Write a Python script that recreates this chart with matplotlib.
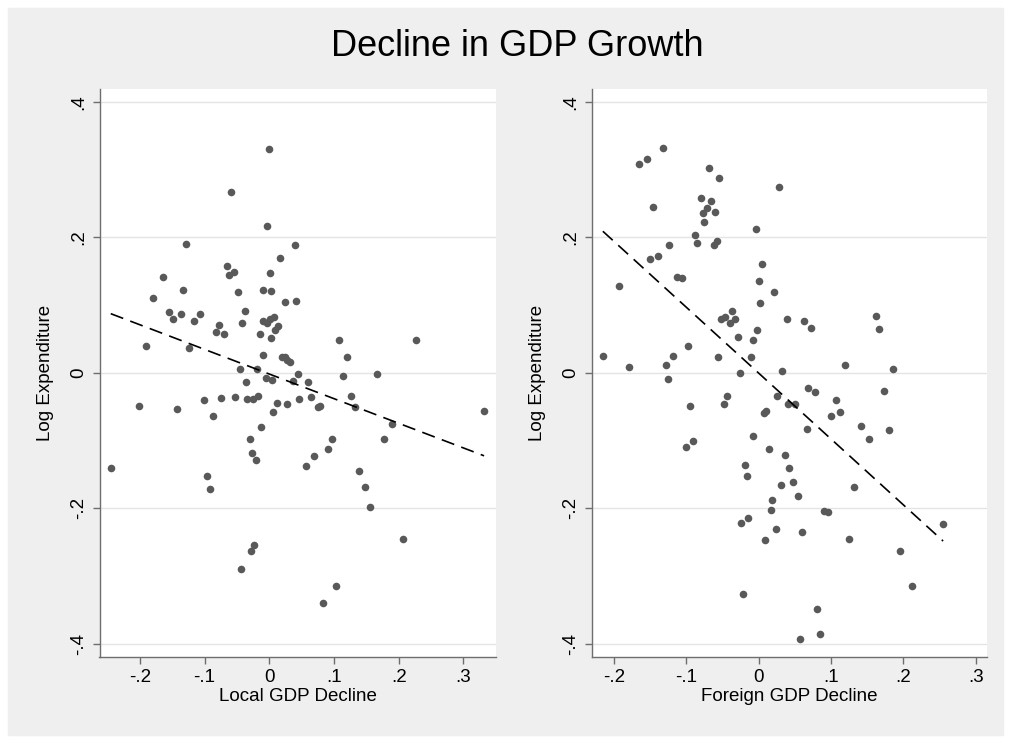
import matplotlib
matplotlib.use("Agg")
import matplotlib.pyplot as plt
import numpy as np
from matplotlib.patches import Rectangle

plt.rcParams['font.family'] = ['Liberation Sans', 'DejaVu Sans']

title = "Decline in GDP Growth"
y_label = "Log Expenditure"
x_labels = ["Local GDP Decline", "Foreign GDP Decline"]
x_ticks = [-0.2, -0.1, 0, 0.1, 0.2, 0.3]
x_tick_labels = ["-.2", "-.1", "0", ".1", ".2", ".3"]
y_ticks = [-0.4, -0.2, 0, 0.2, 0.4]
y_tick_labels = ["-.4", "-.2", "0", ".2", ".4"]

# local GDP decline vs log expenditure
local_x = [0.000, -0.059, -0.003, -0.128, 0.039, 0.017, -0.066, -0.063, -0.055, 0.001,
           -0.165, -0.133, -0.179, -0.049, -0.009, 0.003, 0.024, 0.041, -0.155, -0.149,
           -0.137, -0.107, -0.117, -0.038, -0.042, -0.077, -0.082, -0.070, -0.009, 0.007,
           -0.004, 0.001, 0.013, 0.009, -0.015, 0.002, -0.191, -0.124, -0.010, 0.020,
           0.025, 0.032, 0.027, -0.046, -0.019, 0.044, 0.108, 0.227, 0.120, 0.114,
           0.166, -0.036, -0.005, 0.004, 0.036, -0.202, -0.142, -0.101, -0.074, -0.053,
           -0.034, -0.025, -0.017, -0.087, 0.012, 0.005, 0.027, 0.046, -0.013, -0.030,
           -0.027, -0.021, -0.245, -0.096, -0.091, -0.023, -0.028, -0.044, 0.060, 0.064,
           0.075, 0.079, 0.126, 0.132, 0.190, 0.332, 0.178, 0.097, 0.090, 0.069,
           0.056, 0.139, 0.148, 0.156, 0.207, 0.103, 0.083]
local_y = [0.330, 0.267, 0.217, 0.190, 0.189, 0.170, 0.157, 0.145, 0.149, 0.147,
           0.141, 0.123, 0.110, 0.119, 0.123, 0.121, 0.105, 0.106, 0.090, 0.080,
           0.087, 0.087, 0.077, 0.091, 0.074, 0.070, 0.061, 0.057, 0.076, 0.082,
           0.073, 0.080, 0.069, 0.063, 0.058, 0.052, 0.040, 0.036, 0.026, 0.023,
           0.023, 0.016, 0.019, 0.005, 0.005, -0.001, 0.048, 0.049, 0.023, -0.005,
           -0.002, -0.014, -0.007, -0.010, -0.012, -0.049, -0.054, -0.040, -0.037, -0.035,
           -0.038, -0.038, -0.034, -0.063, -0.045, -0.058, -0.046, -0.038, -0.080, -0.097,
           -0.119, -0.129, -0.141, -0.153, -0.171, -0.254, -0.263, -0.290, -0.013, -0.035,
           -0.050, -0.049, -0.034, -0.051, -0.075, -0.057, -0.097, -0.098, -0.113, -0.123,
           -0.138, -0.145, -0.169, -0.198, -0.245, -0.314, -0.339]

# foreign GDP decline vs log expenditure
foreign_x = [-0.132, -0.165, -0.154, -0.068, -0.054, 0.029, -0.146, -0.080, -0.065, -0.071,
             -0.077, -0.060, -0.075, -0.088, -0.085, -0.062, -0.058, -0.004, -0.123, -0.150,
             -0.139, 0.005, -0.112, -0.106, -0.193, 0.000, 0.021, 0.002, 0.039, -0.037,
             -0.052, -0.046, -0.039, -0.032, -0.029, -0.002, -0.008, -0.097, -0.118, -0.056,
             -0.011, -0.215, -0.179, -0.128, -0.026, 0.033, -0.125, -0.095, -0.048, -0.044,
             0.026, 0.041, 0.008, 0.011, -0.100, -0.091, -0.007, 0.015, 0.037, -0.019,
             -0.016, 0.042, 0.031, 0.047, 0.019, 0.017, -0.014, -0.024, 0.024, 0.009,
             -0.021, 0.063, 0.073, 0.162, 0.167, 0.119, 0.186, 0.069, 0.078, 0.174,
             0.050, 0.107, 0.100, 0.112, 0.067, 0.142, 0.180, 0.153, 0.054, 0.132,
             0.090, 0.096, 0.060, 0.125, 0.255, 0.196, 0.212, 0.081, 0.085, 0.057]
foreign_y = [0.332, 0.308, 0.315, 0.303, 0.287, 0.274, 0.245, 0.258, 0.253, 0.243,
             0.236, 0.238, 0.223, 0.204, 0.191, 0.188, 0.194, 0.212, 0.189, 0.168,
             0.173, 0.161, 0.141, 0.140, 0.128, 0.136, 0.119, 0.103, 0.080, 0.091,
             0.079, 0.082, 0.074, 0.080, 0.053, 0.063, 0.049, 0.040, 0.025, 0.024,
             0.024, 0.025, 0.008, 0.012, 0.000, 0.002, -0.009, -0.049, -0.046, -0.034,
             -0.034, -0.046, -0.059, -0.057, -0.109, -0.101, -0.093, -0.113, -0.122, -0.136,
             -0.153, -0.141, -0.166, -0.161, -0.188, -0.203, -0.214, -0.221, -0.231, -0.247,
             -0.326, 0.076, 0.066, 0.084, 0.065, 0.011, 0.005, -0.022, -0.029, -0.027,
             -0.046, -0.040, -0.064, -0.058, -0.083, -0.078, -0.084, -0.097, -0.182, -0.168,
             -0.204, -0.205, -0.235, -0.245, -0.223, -0.263, -0.314, -0.349, -0.386, -0.393]

W, H = 1011, 743
BG = '#efefef'
DOT = '#595959'
AXIS = '#6e6e6e'


def px_rect(x0, y0, x1, y1):
    # pixel box (top-left origin) -> figure fraction [left, bottom, width, height]
    return [x0 / W, 1 - y1 / H, (x1 - x0) / W, (y1 - y0) / H]


def draw_panel(ax, xs, ys, xlabel, xlim):
    ax.set_facecolor('white')
    ax.scatter(xs, ys, s=30, color=DOT, linewidths=0, zorder=3)

    # linear fit over the range of the data
    slope, icpt = np.polyfit(xs, ys, 1)
    fx = np.array([min(xs), max(xs)])
    ax.plot(fx, icpt + slope * fx, color='black', lw=1.2,
            linestyle=(0, (8, 4.5)), zorder=4)

    ax.set_xlim(*xlim)
    ax.set_ylim(-0.419, 0.419)
    ax.set_xticks(x_ticks)
    ax.set_xticklabels(x_tick_labels)
    ax.set_yticks(y_ticks)
    ax.set_yticklabels(y_tick_labels, rotation=90, va='center')
    ax.grid(axis='y', color='#e4e4e4', lw=1.0, zorder=0)
    ax.set_axisbelow(True)

    for side in ['top', 'right']:
        ax.spines[side].set_visible(False)
    for side in ['left', 'bottom']:
        ax.spines[side].set_color(AXIS)
        ax.spines[side].set_linewidth(1.0)
    ax.tick_params(axis='both', length=5, width=1, color=AXIS,
                   labelsize=13.5, pad=4)

    ax.set_xlabel(xlabel, fontsize=13.5)
    ax.xaxis.set_label_coords(0.5, -0.055)
    ax.set_ylabel(y_label, fontsize=13.5)
    ax.yaxis.set_label_coords(-0.115, 0.5)


if __name__ == "__main__":
    fig = plt.figure(figsize=(W / 100, H / 100), dpi=100)
    fig.patch.set_facecolor('white')
    fig.patches.append(Rectangle((8 / W, 8 / H), (W - 16) / W, (H - 16) / H,
                                 transform=fig.transFigure, color=BG, zorder=-1))

    ax1 = fig.add_axes(px_rect(99.5, 89, 496, 656.7))
    ax2 = fig.add_axes(px_rect(591.7, 89, 986.7, 656.7))

    draw_panel(ax1, local_x, local_y, x_labels[0], (-0.2624, 0.3504))
    draw_panel(ax2, foreign_x, foreign_y, x_labels[1], (-0.2304, 0.3152))

    fig.text(517 / W, 1 - 46 / H, title, fontsize=26, ha='center', va='center')

    fig.savefig('out.png', dpi=100, facecolor=fig.get_facecolor())
